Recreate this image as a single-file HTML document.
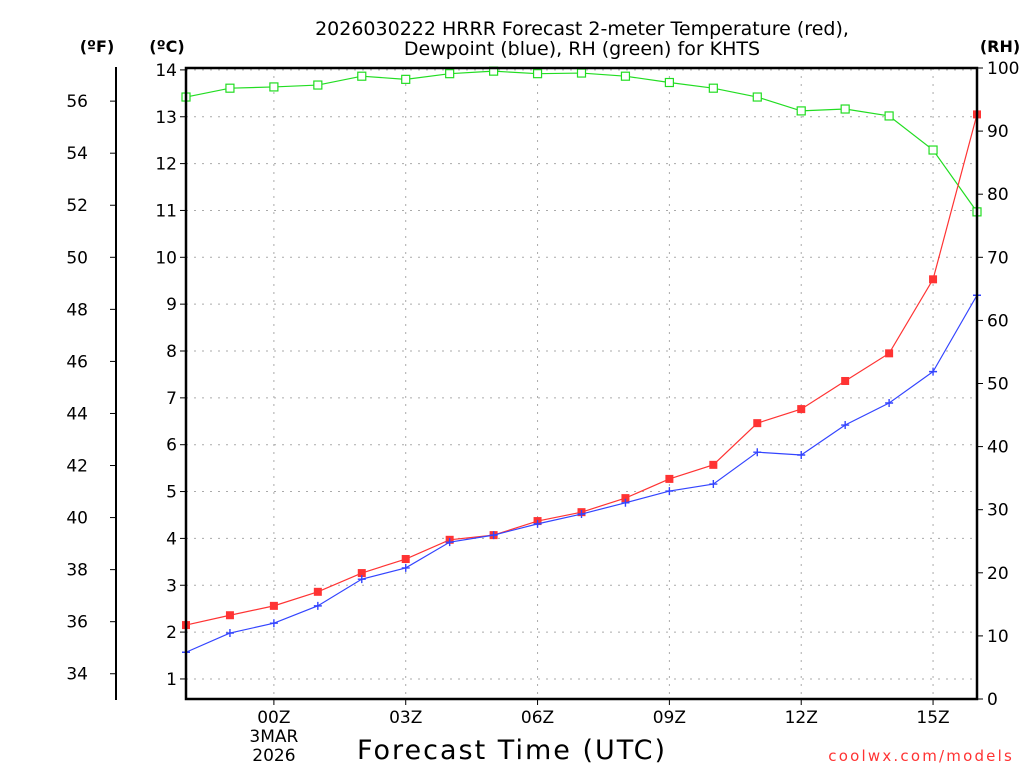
<!DOCTYPE html>
<html><head><meta charset="utf-8"><style>
body{margin:0;background:#fff}
svg text{font-family:"DejaVu Sans","Liberation Sans",sans-serif}
</style></head><body>
<svg id="c" width="1024" height="768" xmlns="http://www.w3.org/2000/svg">
<text x="582" y="35" text-anchor="middle" font-size="19">2026030222 HRRR Forecast 2-meter Temperature (red),</text>
<text x="582" y="55" text-anchor="middle" font-size="19">Dewpoint (blue), RH (green) for KHTS</text>
<text x="97" y="52" text-anchor="middle" font-size="16" font-weight="bold">(ºF)</text>
<text x="167" y="52" text-anchor="middle" font-size="16" font-weight="bold">(ºC)</text>
<text x="1000" y="52" text-anchor="middle" font-size="16" font-weight="bold">(RH)</text>
<text x="512" y="759" text-anchor="middle" font-size="27" letter-spacing="2">Forecast Time (UTC)</text>
<text x="1014" y="761" text-anchor="end" font-size="15" letter-spacing="2.2" fill="#ff3333">coolwx.com/models</text>
<g id="g"></g>
</svg>
<script>
const hours=[0,1,2,3,4,5,6,7,8,9,10,11,12,13,14,15,16,17,18];
const tempC=[2.15,2.36,2.56,2.86,3.26,3.56,3.97,4.07,4.37,4.56,4.86,5.27,5.57,6.46,6.76,7.36,7.95,9.53,13.05];
const dewC=[1.57,1.98,2.19,2.56,3.13,3.37,3.92,4.07,4.31,4.52,4.76,5.01,5.16,5.84,5.78,6.42,6.89,7.56,9.19];
const rh=[95.4,96.8,97.0,97.3,98.7,98.2,99.1,99.5,99.1,99.2,98.7,97.7,96.8,95.4,93.2,93.5,92.4,87.0,77.2];
const cTicks=[1,2,3,4,5,6,7,8,9,10,11,12,13,14];
const fTicks=[34,36,38,40,42,44,46,48,50,52,54,56];
const rhTicks=[0,10,20,30,40,50,60,70,80,90,100];
const xTicks=[2,5,8,11,14,17];
const xLabels=["00Z","03Z","06Z","09Z","12Z","15Z"];
const L=186,R=977,T=68,B=699,NS="http://www.w3.org/2000/svg";
const xs=h=>L+h*(R-L)/18;
const yc=c=>725.8-c*46.85;
const yf=f=>yc((f-32)/1.8);
const yr=r=>B-r*(B-T)/100;
const g=document.getElementById('g');
function el(t,a,txt){const e=document.createElementNS(NS,t);for(const k in a)e.setAttribute(k,a[k]);if(txt!=null)e.textContent=txt;g.appendChild(e);return e;}
cTicks.forEach(c=>{
 const l=el('line',{x1:L,x2:R,y1:yc(c),y2:yc(c),stroke:'#aaa','stroke-dasharray':'2,6'});
 
 
 el('line',{x1:L-6,x2:L,y1:yc(c),y2:yc(c),stroke:'#000'});
 const t=el('text',{x:L-9,y:yc(c)+6,'text-anchor':'end','font-size':17},c);
 
 
});
xTicks.forEach((h,i)=>{
 const l=el('line',{x1:xs(h),x2:xs(h),y1:T,y2:B,stroke:'#aaa','stroke-dasharray':'2,6'});
 
 
 el('line',{x1:xs(h),x2:xs(h),y1:B,y2:B+6,stroke:'#000'});
 const t=el('text',{x:xs(h),y:723,'text-anchor':'middle','font-size':17},xLabels[i]);
 
 
});
const d1=el('text',{x:xs(2),y:742,'text-anchor':'middle','font-size':17},'3MAR');


const d2=el('text',{x:xs(2),y:761,'text-anchor':'middle','font-size':17},'2026');


el('line',{x1:116,x2:116,y1:67,y2:700,stroke:'#000','stroke-width':2});
fTicks.forEach(f=>{
 el('line',{x1:110,x2:116,y1:yf(f),y2:yf(f),stroke:'#000'});
 const t=el('text',{x:88,y:yf(f)+6,'text-anchor':'end','font-size':17},f);
 
 
});
rhTicks.forEach(r=>{
 el('line',{x1:R,x2:R+6,y1:yr(r),y2:yr(r),stroke:'#000'});
 const t=el('text',{x:987,y:yr(r)+6,'font-size':17},r);
 
 
});
function series(vals,yfn,color,name,marker){
 const p=el('polyline',{points:vals.map((v,i)=>xs(hours[i])+','+yfn(v)).join(' '),fill:'none',stroke:color,'stroke-width':1.2});
 
 
 vals.forEach((v,i)=>{
  const x=xs(hours[i]),y=yfn(v);let m;
  if(marker==='sq')m=el('rect',{x:x-4,y:y-4,width:8,height:8,fill:color});
  else if(marker==='open')m=el('rect',{x:x-4,y:y-4,width:8,height:8,fill:'#fff',stroke:color,'stroke-width':1.2});
  else m=el('path',{d:`M${x-4},${y}H${x+4}M${x},${y-4}V${y+4}`,stroke:color,'stroke-width':1.4});
  
  
 });
}
series(rh,yr,'#22dd22','rh','open');
series(tempC,yc,'#ff3333','temperature','sq');
series(dewC,yc,'#3344ff','dewpoint','plus');
const fr=el('rect',{x:L,y:T,width:R-L,height:B-T,fill:'none',stroke:'#000','stroke-width':2.5});


</script>
</body></html>
